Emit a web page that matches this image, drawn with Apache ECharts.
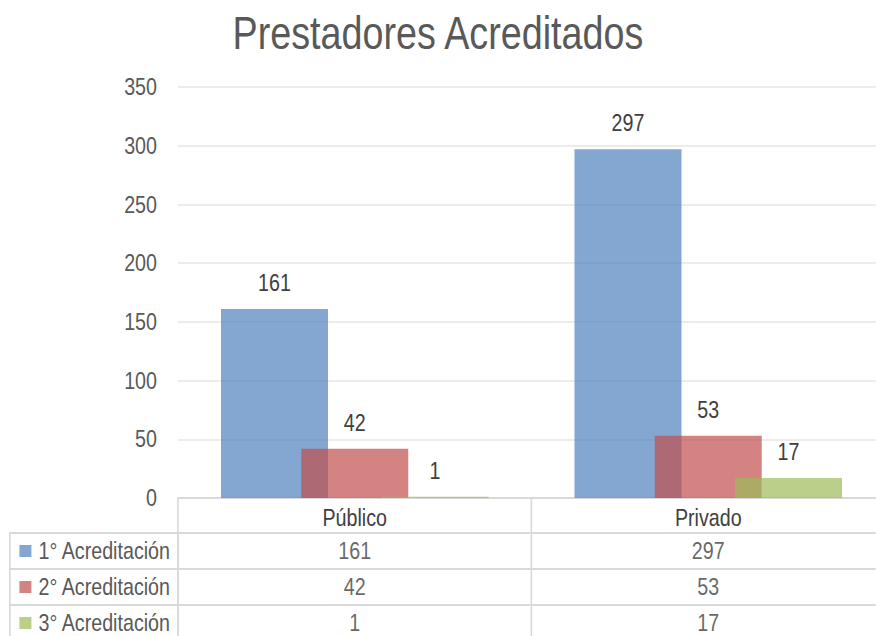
<!DOCTYPE html>
<html>
<head>
<meta charset="utf-8">
<script src="https://cdn.jsdelivr.net/npm/echarts@6/dist/echarts.min.js"></script>
<style>
  html, body { margin: 0; padding: 0; background: #fff; overflow: hidden; }
  #main { width: 1068px; height: 636px; transform: scaleX(0.82); transform-origin: 0 0; }
</style>
</head>
<body>
<div id="main"></div>
<script>
// datos
var categorias = ["Público", "Privado"];
var series = ["1° Acreditación", "2° Acreditación", "3° Acreditación"];
var acred1 = [161, 297];
var acred2 = [42, 53];
var acred3 = [1, 17];
var colores = ["#4f81bd", "#c0504d", "#9bbb59"];
var yTicks = [0, 350, 50]; // min, max, intervalo

// el div se comprime en horizontal (Arial Narrow), las medidas x van divididas por S
var S = 0.82;
var fuente = "'Liberation Sans', Arial, sans-serif";
var valores = [acred1, acred2, acred3];
var borde = "#d9d9d9";

var chart = echarts.init(document.getElementById("main"), null, { renderer: "svg" });

// celdas de la tabla de datos
var celdas = [];
valores.forEach(function (fila, r) {
  fila.forEach(function (v, c) {
    celdas.push([c, r, v]);
  });
});

var rich = {};
colores.forEach(function (c, i) {
  rich["k" + i] = { width: 12 / S, height: 12, backgroundColor: echarts.color.modifyAlpha(c, 0.7) };
  rich["t" + i] = { fontSize: 24, color: "#595959", fontFamily: fuente, padding: [0, 0, 0, 6 / S] };
});

var barras = valores.map(function (fila, i) {
  return {
    name: series[i],
    type: "bar",
    xAxisIndex: 0,
    yAxisIndex: 0,
    data: fila,
    barWidth: 107 / S,
    barGap: "-25%",
    itemStyle: { color: echarts.color.modifyAlpha(colores[i], 0.7) },
    label: {
      show: true,
      position: "top",
      distance: 14,
      fontSize: 24,
      color: "#404040",
      fontFamily: fuente
    }
  };
});

var option = {
  animation: false,
  title: {
    text: "Prestadores Acreditados",
    left: "center",
    top: 5,
    textStyle: { fontSize: 46, fontWeight: "normal", color: "#595959", fontFamily: fuente }
  },
  grid: [
    { left: 178 / S, width: 707 / S, top: 87, height: 411, outerBoundsMode: "none" },
    { left: 178 / S, width: 707 / S, top: 533, height: 108, outerBoundsMode: "none" }
  ],
  xAxis: [
    {
      type: "category",
      gridIndex: 0,
      data: categorias,
      axisLine: { lineStyle: { color: borde, width: 2 } },
      axisTick: { show: true, length: 35, lineStyle: { color: borde, width: 2 } },
      axisLabel: { margin: 8, fontSize: 24, color: "#404040", fontFamily: fuente }
    },
    {
      type: "category",
      gridIndex: 1,
      data: categorias,
      axisLine: { show: false },
      axisTick: { show: false },
      axisLabel: { show: false },
      splitLine: { show: true, lineStyle: { color: borde, width: 2 } }
    }
  ],
  yAxis: [
    {
      type: "value",
      gridIndex: 0,
      min: yTicks[0],
      max: yTicks[1],
      interval: yTicks[2],
      axisLine: { show: false },
      axisTick: { show: false },
      axisLabel: { margin: 21 / S, fontSize: 24, color: "#595959", fontFamily: fuente },
      splitLine: { lineStyle: { color: "#ececec", width: 2 } }
    },
    {
      type: "category",
      gridIndex: 1,
      inverse: true,
      data: series,
      axisLine: { show: true, lineStyle: { color: borde, width: 2 } },
      axisTick: { show: true, length: 168 / S, lineStyle: { color: borde, width: 2 } },
      axisLabel: {
        margin: 8 / S,
        formatter: function (v, i) {
          return "{k" + i + "|}{t" + i + "|" + v + "}";
        },
        rich: rich
      },
      splitLine: { show: true, lineStyle: { color: borde, width: 2 } }
    },
    {
      type: "category",
      gridIndex: 1,
      position: "left",
      offset: 168 / S,
      data: series,
      axisLine: { show: true, lineStyle: { color: borde, width: 2 } },
      axisTick: { show: false },
      axisLabel: { show: false }
    }
  ],
  series: barras.concat([
    {
      type: "scatter",
      xAxisIndex: 1,
      yAxisIndex: 1,
      symbolSize: 0,
      data: celdas,
      label: {
        show: true,
        position: "inside",
        formatter: function (p) { return p.value[2]; },
        fontSize: 24,
        color: "#404040",
        fontFamily: fuente
      }
    }
  ])
};

chart.setOption(option);
</script>
</body>
</html>
